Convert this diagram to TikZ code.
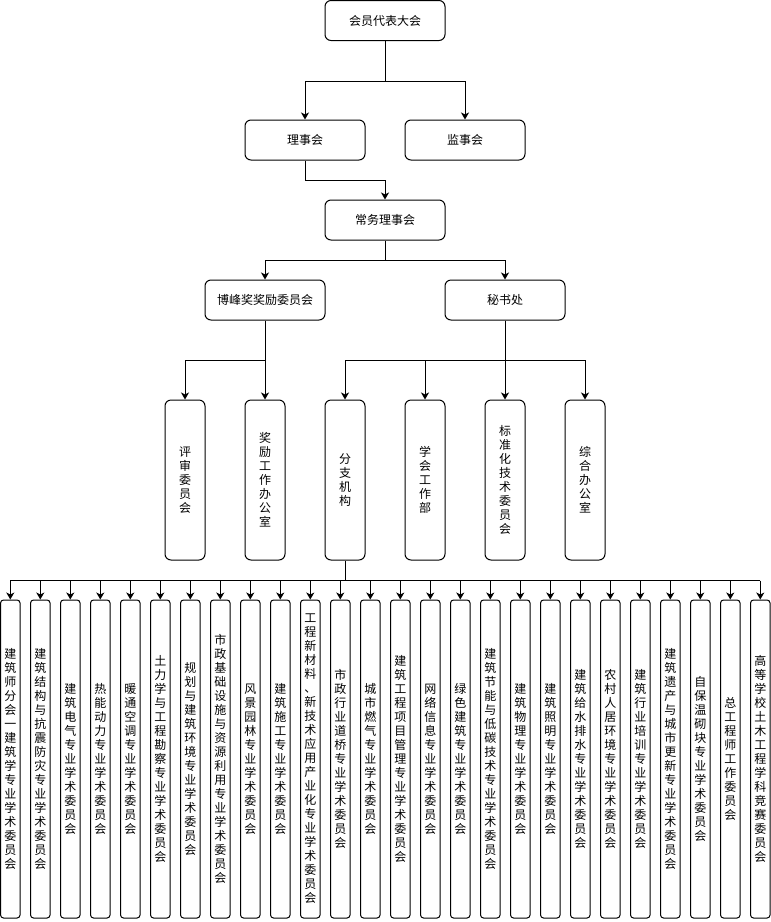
\documentclass[tikz,border=0pt]{standalone}
\usepackage{fontspec}
\setmainfont{Noto Sans CJK SC}
\usetikzlibrary{arrows.meta}
\def\vtfirst#1{\hbox to 12pt{\hss#1\hss}\vtrest}
\def\vtrest#1{\ifx#1\relax\else\hbox to 12pt{\hss#1\hss}\expandafter\vtrest\fi}
\newcommand\vtx[1]{\vbox{\baselineskip=14pt\lineskiplimit=-10pt\vtfirst#1\relax}}
\tikzset{
  wide/.style={draw, line width=1pt, rounded corners=6pt, minimum width=120pt, minimum height=40pt, inner sep=0pt, font=\fontsize{12pt}{14pt}\selectfont},
  tallbox/.style={draw, line width=1pt, rounded corners=6pt, minimum width=40pt, minimum height=160pt, inner sep=0pt, font=\fontsize{12pt}{14pt}\selectfont},
  thinbox/.style={draw, line width=1pt, rounded corners=3pt, minimum width=19.5pt, minimum height=318pt, inner sep=0pt, font=\fontsize{12pt}{14pt}\selectfont},
  conn/.style={line width=1pt},
  arr/.style={line width=1pt, -{Stealth[length=7pt,width=8pt,inset=2pt]}}
}
\begin{document}
\begin{tikzpicture}[x=1pt,y=-1pt]
\useasboundingbox (0,0) rectangle (771,922);
\node[wide] (hy) at (385,20.5) {会员代表大会};
\node[wide] (lsh) at (305,140) {理事会};
\node[wide] (jsh) at (465,140) {监事会};
\node[wide] (cw) at (385,220) {常务理事会};
\node[wide] (bf) at (265,300) {博峰奖奖励委员会};
\node[wide] (msc) at (505,300) {秘书处};
\node[tallbox] (ps) at (185,480) {\vtx{评审委员会}};
\node[tallbox] (jl) at (265,480) {\vtx{奖励工作办公室}};
\node[tallbox] (fz) at (345,480) {\vtx{分支机构}};
\node[tallbox] (xh) at (425,480) {\vtx{学会工作部}};
\node[tallbox] (bz) at (505,480) {\vtx{标准化技术委员会}};
\node[tallbox] (zh) at (585,480) {\vtx{综合办公室}};
\draw[arr] (hy.south) -- ++(0,40) -| (lsh.north);
\draw[arr] (hy.south) -- ++(0,40) -| (jsh.north);
\draw[arr] (lsh.south) -- ++(0,20) -| (cw.north);
\draw[arr] (cw.south) -- ++(0,20) -| (bf.north);
\draw[arr] (cw.south) -- ++(0,20) -| (msc.north);
\draw[arr] (bf.south) -- (jl.north);
\draw[arr] (bf.south) -- ++(0,40) -| (ps.north);
\draw[arr] (msc.south) -- ++(0,40) -| (fz.north);
\draw[arr] (msc.south) -- ++(0,40) -| (xh.north);
\draw[arr] (msc.south) -- (bz.north);
\draw[arr] (msc.south) -- ++(0,40) -| (zh.north);
\foreach \t [count=\i from 0] in {建筑师分会一建筑学专业学术委员会,建筑结构与抗震防灾专业学术委员会,建筑电气专业学术委员会,热能动力专业学术委员会,暖通空调专业学术委员会,土力学与工程勘察专业学术委员会,规划与建筑环境专业学术委员会,市政基础设施与资源利用专业学术委员会,风景园林专业学术委员会,建筑施工专业学术委员会,工程新材料、新技术应用产业化专业学术委员会,市政行业道桥专业学术委员会,城市燃气专业学术委员会,建筑工程项目管理专业学术委员会,网络信息专业学术委员会,绿色建筑专业学术委员会,建筑节能与低碳技术专业学术委员会,建筑物理专业学术委员会,建筑照明专业学术委员会,建筑给水排水专业学术委员会,农村人居环境专业学术委员会,建筑行业培训专业学术委员会,建筑遗产与城市更新专业学术委员会,自保温砌块专业学术委员会,总工程师工作委员会,高等学校土木工程学科竞赛委员会}{
  \node[thinbox] (b\i) at (10.3+30*\i,759) {\expandafter\vtx\expandafter{\t}};
}
\draw[conn] (fz.south) -- ++(0,20) coordinate (bus);
\draw[conn] (b0.north |- bus) -- (b25.north |- bus);
\foreach \i in {0,...,25}{
  \draw[arr] (b\i.north |- bus) -- (b\i.north);
}
\end{tikzpicture}
\end{document}
